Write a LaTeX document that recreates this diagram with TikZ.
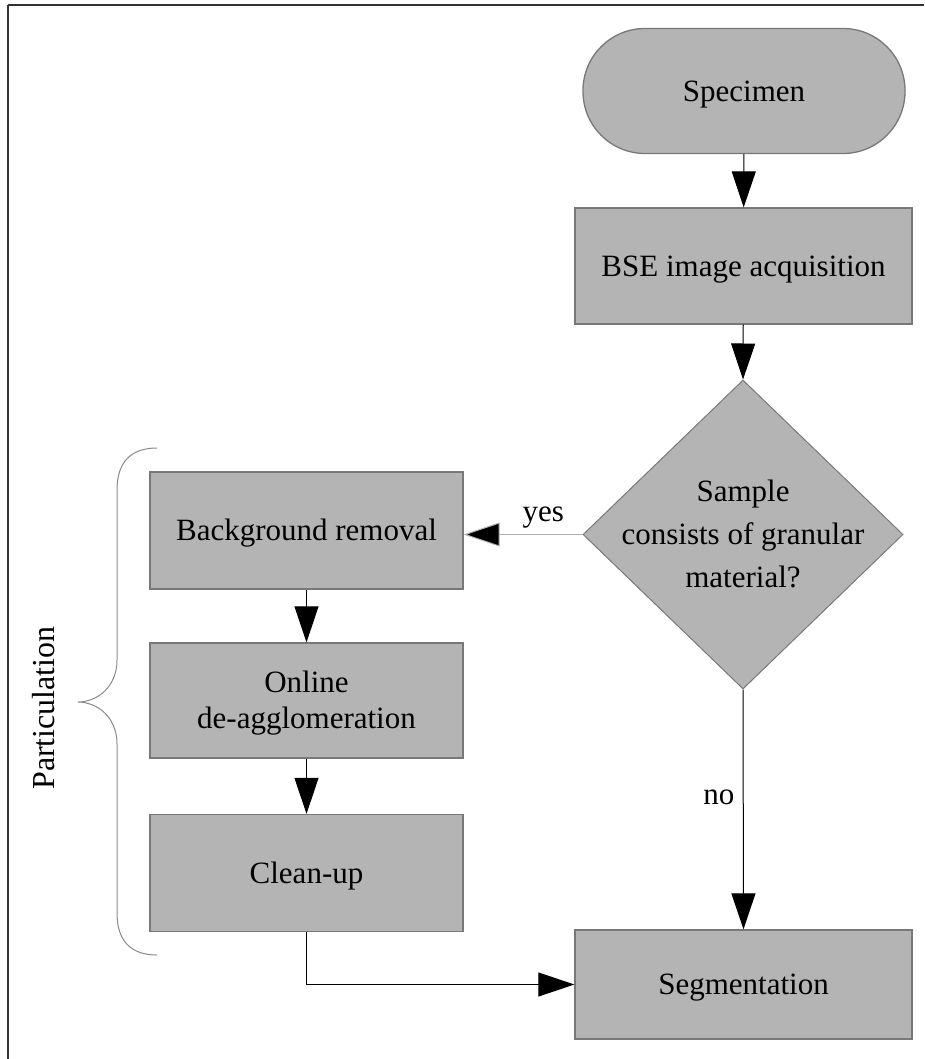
\documentclass[tikz,border=0pt]{standalone}
\usepackage{fontspec}
\setmainfont{Liberation Serif}
\usetikzlibrary{arrows.meta,shapes.geometric}
\definecolor{boxgray}{HTML}{B4B4B4}
\definecolor{edgegray}{HTML}{787878}
\definecolor{bracegray}{HTML}{8A8A8A}
\definecolor{yesgray}{HTML}{B0B0B0}
\newcommand\myhs{\rule{0pt}{27.6pt}}
\newcommand\myds{\rule[-6.7pt]{0pt}{6.7pt}}
\tikzset{
  txt/.style={font=\fontsize{31}{36}\selectfont, align=center},
  procbox/.style={txt, draw=edgegray, line width=1.3pt, fill=boxgray, rectangle, inner sep=0pt},
  startbox/.style={procbox, rounded corners=62pt, minimum width=322pt, minimum height=125pt},
  decbox/.style={draw=edgegray, line width=1pt, fill=boxgray, diamond, inner sep=0pt, minimum width=320pt, minimum height=309pt},
  flow/.style={line width=1pt, -{Triangle[length=36pt,width=24pt]}},
  brace/.style={draw=bracegray, line width=1pt},
  frame/.style={draw=black!80, line width=2pt}
}
\begin{document}
\begin{tikzpicture}[x=1pt,y=-1pt]
\useasboundingbox (0,0) rectangle (924,1059);
% frame (only top and left edges are visible)
\draw[frame] (7.5,5.5) -- (924,5.5);
\draw[frame] (7.5,5.5) -- (7.5,1059);
% nodes
\node[startbox] (spec) at (744,91) {\myhs\myds Specimen};
\node[procbox, minimum width=337pt, minimum height=116pt] (bse) at (743.5,266) {\myhs\myds BSE image acquisition};
\node[decbox] (dec) at (743,534.5) {};
\node[txt, font=\fontsize{31}{43}\selectfont] (dectxt) at (dec.center) {\myhs Sample\\consists of granular\\material?\myds};
\node[procbox, minimum width=313pt, minimum height=117pt] (bg) at (306.5,530.5) {\myhs\myds Background removal};
\node[procbox, minimum width=313pt, minimum height=115pt] (onl) at (306.5,700.5) {\myhs Online\\de-agglomeration\myds};
\node[procbox, minimum width=313pt, minimum height=117pt] (clean) at (306.5,873) {\myhs\myds Clean-up};
\node[procbox, minimum width=337pt, minimum height=109pt] (seg) at (743.5,984.5) {\myhs\myds Segmentation};
\node[txt, font=\fontsize{32}{36}\selectfont, rotate=90] (part) at (44,708) {Particulation};
% connectors
\draw[flow] (spec) -- (bse);
\draw[flow] (bse) -- (dec.north);
\draw[flow, draw=yesgray, -{Triangle[length=36pt,width=24pt,fill=black]}, line width=1pt] (dec.west) -- (bg.east |- dec.west)
  node[txt, pos=0.33, above=2pt, text=black] (yes) {yes};
\draw[flow] (bg) -- (onl);
\draw[flow] (onl) -- (clean);
\draw[flow] (dec.south) -- (seg.north) node[txt, pos=0.448, left=5pt] (no) {no};
\draw[flow] (clean.south) |- (seg.west);
% brace
\draw[brace] (157,448) .. controls (131,448) and (117,462) .. (117,490)
  -- (117,660) .. controls (117,688) and (96,702) .. (78,702)
  .. controls (96,702) and (117,716) .. (117,744)
  -- (117,913) .. controls (117,941) and (131,955) .. (157,955);
\end{tikzpicture}
\end{document}
